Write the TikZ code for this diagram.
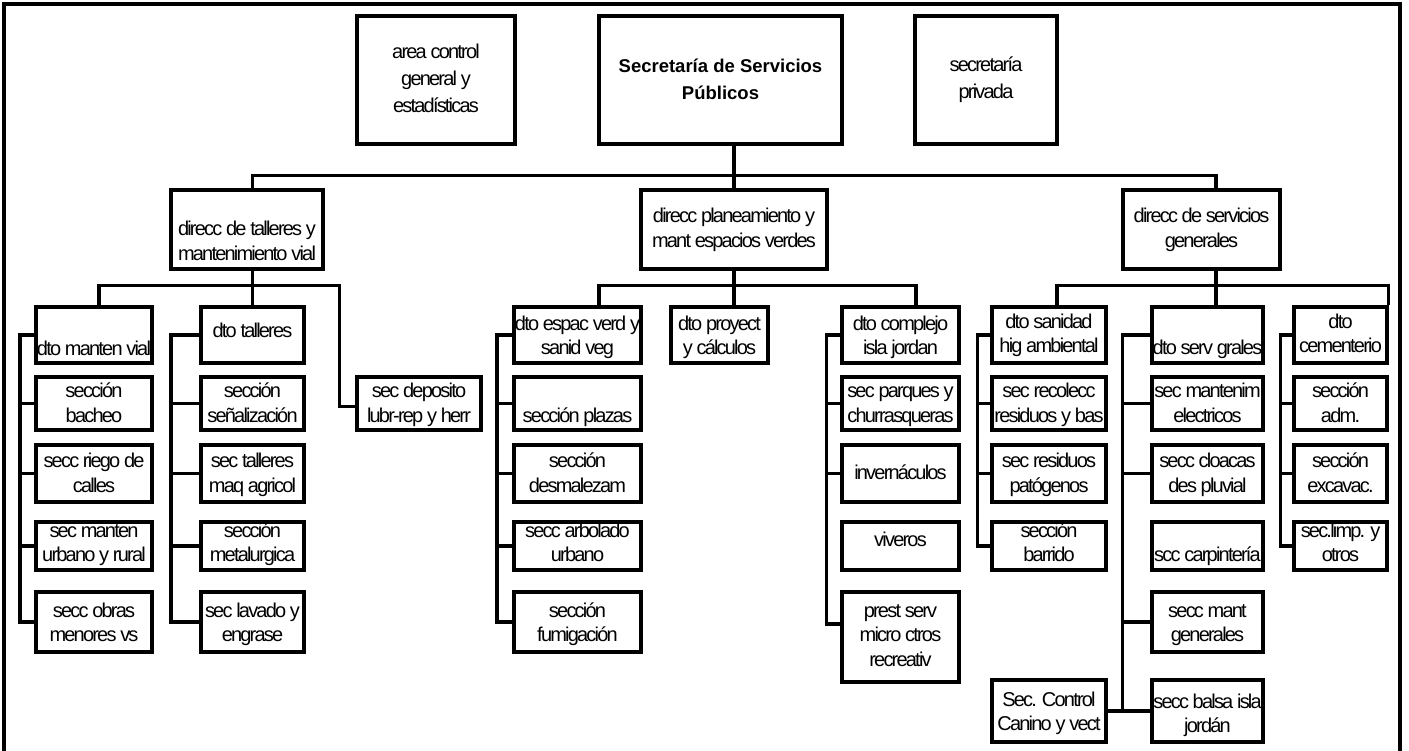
\documentclass[tikz,border=0pt]{standalone}
\usepackage{fontspec}
\setmainfont{Liberation Sans}[LetterSpace=-9]
\newfontfamily\ttlfont{Liberation Sans}
\usetikzlibrary{calc}
\newcommand\tx[2]{\raisebox{\dimexpr -#1pt - 0.25em\relax}[0pt][0pt]{\begin{tabular}{@{}c@{}}#2\end{tabular}}}
\newcommand\obox[8][]{\node[bx,#1,minimum width={#5-#3},minimum height={#6-#4}] (#2) at ({(#3+#5)/2},{(#4+#6)/2}) {\tx{#7}{#8}};}
\tikzset{
  bx/.style={draw, line width=3.3pt, inner sep=0pt, font=\fontsize{20}{24.5}\selectfont},
  topbx/.style={font=\fontsize{20}{27}\selectfont},
  ttl/.style={font=\ttlfont\bfseries\fontsize{18.5}{27}\selectfont},
  ln/.style={line width=3.3pt},
}
\begin{document}
\begin{tikzpicture}[x=1pt,y=-1pt]
\useasboundingbox (0,0) rectangle (1409,751);
% frame
\draw[ln] (4,760) -- (4,4) -- (1400,4) -- (1400,760);
% top row
\obox[topbx]{acg}{357}{16}{515}{144}{0}{area control\\general y\\estadísticas}
\obox[ttl]{ssp}{599}{16}{842}{144}{0}{Secretaría de Servicios\\Públicos}
\obox[topbx]{spr}{915}{16}{1057}{144}{0}{secretaría\\privada}
% direcciones
\obox{d1}{171}{190}{323}{269}{14}{direcc de talleres y\\mantenimiento vial}
\obox{d2}{641}{190}{827}{269}{1}{direcc planeamiento y\\mant espacios verdes}
\obox{d3}{1123}{190}{1280}{269}{1}{direcc de servicios\\generales}
% column A
\obox{mv}{36}{307}{152}{363}{16}{dto manten vial}
\obox{ba}{36}{377}{152}{430}{2}{sección\\bacheo}
\obox{ri}{36}{445}{152}{502}{2}{secc riego de\\calles}
\obox{ur}{36}{522}{152}{570}{-1}{sec manten\\urbano y rural}
\obox{ob}{36}{592}{152}{652}{3}{secc obras\\menores vs}
% column B
\obox{dt}{201}{307}{304}{363}{-2}{dto talleres}
\obox{se}{201}{377}{304}{430}{2}{sección\\señalización}
\obox{mq}{201}{445}{304}{502}{2}{sec talleres\\maq agricol}
\obox{me}{201}{522}{304}{570}{-1}{sección\\metalurgica}
\obox{la}{201}{592}{304}{652}{3}{sec lavado y\\engrase}
\obox{sd}{357}{377}{481}{430}{2}{sec deposito\\lubr-rep y herr}
% column C
\obox{ev}{514}{307}{641}{363}{3}{dto espac verd y\\sanid veg}
\obox{pl}{514}{377}{641}{430}{14}{sección plazas}
\obox{de}{514}{445}{641}{502}{2}{sección\\desmalezam}
\obox{ar}{514}{522}{641}{570}{-1}{secc arbolado\\urbano}
\obox{fu}{514}{592}{641}{652}{3}{sección\\fumigación}
\obox{dp}{671}{307}{768}{363}{3}{dto proyect\\y cálculos}
% column D
\obox{cj}{842}{307}{959}{363}{3}{dto complejo\\isla jordan}
\obox{pq}{842}{377}{959}{430}{2}{sec parques y\\churrasqueras}
\obox{iv}{842}{445}{959}{502}{1}{invernáculos}
\obox{vi}{842}{522}{959}{570}{-4}{viveros}
\obox{ps}{842}{592}{959}{682}{0}{prest serv\\micro ctros\\recreativ}
% column E
\obox{sa}{992}{307}{1106}{363}{1}{dto sanidad\\hig ambiental}
\obox{rc}{992}{377}{1106}{430}{2}{sec recolecc\\residuos y bas}
\obox{pa}{992}{445}{1106}{502}{2}{sec residuos\\patógenos}
\obox{bd}{992}{522}{1106}{570}{-1}{sección\\barrido}
\obox{cc}{992}{680}{1106}{742}{3}{Sec. Control\\Canino y vect}
% column F
\obox{sg}{1152}{307}{1263}{363}{15}{dto serv grales}
\obox{el}{1152}{377}{1263}{430}{2}{sec mantenim\\electricos}
\obox{cl}{1152}{445}{1263}{502}{2}{secc cloacas\\des pluvial}
\obox{cp}{1152}{522}{1263}{570}{11}{scc carpintería}
\obox{mg}{1152}{592}{1263}{652}{3}{secc mant\\generales}
\obox{bl}{1152}{680}{1263}{742}{5}{secc balsa isla\\jordán}
% column G
\obox{ce}{1294}{307}{1387}{363}{1}{dto\\cementerio}
\obox{ad}{1294}{377}{1387}{430}{2}{sección\\adm.}
\obox{ex}{1294}{445}{1387}{502}{2}{sección\\excavac.}
\obox{li}{1294}{522}{1387}{570}{-1}{sec.limp. y\\otros}
% top level connectors
\coordinate (d3n) at ($(d3.north)+(14.5,0)$);
\coordinate (d3s) at ($(d3.south)+(14.5,0)$);
\draw[ln] (ssp.south -| d2.north) -- (d2.north);
\draw[ln] (dt.north |- d1.north) -- ++(0,-13) -| (d3n);
% level 2: left
\draw[ln] (dt.north |- d1.south) -- (dt.north);
\draw[ln] ($(mv.north)+(5,0)$) -- ++(0,-19.5) -| ($(sd.west)+(-16,3)$) -- ($(sd.west)+(0,3)$);
% level 2: middle
\draw[ln] (d2.south) -- (d2.south |- dp.north);
\draw[ln] ($(ev.north)+(21.5,0)$) -- ++(0,-19.5) -| ($(cj.north)+(15.5,0)$);
% level 2: right
\draw[ln] (d3s) -- (d3s |- sg.north);
\draw[ln] ($(sa.north)+(8,0)$) -- ++(0,-19.5) -| (ce.north east);
% buses
\draw[ln] (mv.west) -- ++(-14.5,0) |- (ob.west);
\foreach \n in {ba,ri,ur} \draw[ln] (\n.west) -- ++(-14.5,0);
\draw[ln] (dt.west) -- ++(-28.5,0) |- (la.west);
\foreach \n in {se,mq,me} \draw[ln] (\n.west) -- ++(-28.5,0);
\draw[ln] (ev.west) -- ++(-15.5,0) |- (fu.west);
\foreach \n in {pl,de,ar} \draw[ln] (\n.west) -- ++(-15.5,0);
\draw[ln] (cj.west) -- ++(-14,0) |- ($(ps.west)+(0,-13)$);
\foreach \n in {pq,iv} \draw[ln] (\n.west) -- ++(-14,0);
\draw[ln] (sa.west) -- ++(-13,0) |- (bd.west);
\foreach \n in {rc,pa} \draw[ln] (\n.west) -- ++(-13,0);
\draw[ln] (sg.west) -- ++(-28,0) |- (bl.west);
\foreach \n in {el,cl,mg} \draw[ln] (\n.west) -- ++(-28,0);
\draw[ln] (cc.east) -- (bl.west);
\draw[ln] (ce.west) -- ++(-12,0) |- (li.west);
\foreach \n in {ad,ex} \draw[ln] (\n.west) -- ++(-12,0);
\end{tikzpicture}
\end{document}
